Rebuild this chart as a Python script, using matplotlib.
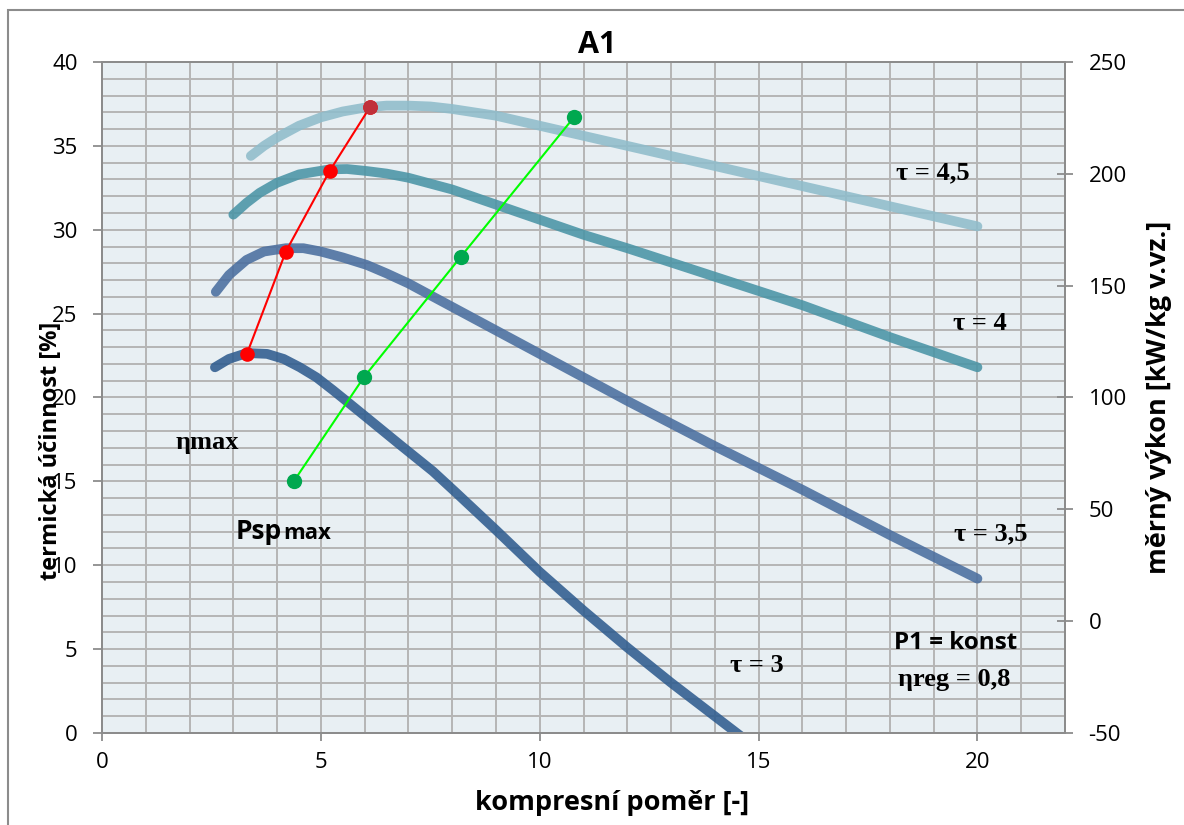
import numpy as np
import matplotlib
matplotlib.use("Agg")
import matplotlib.pyplot as plt
from matplotlib.patches import Rectangle

plt.rcParams['axes.unicode_minus'] = False

# tau curves (x = kompresni pomer, y = termicka ucinnost [%])
x45 = [3.4, 3.7, 4.0, 4.5, 5.0, 5.5, 6.05, 6.5, 7.0, 7.5, 8.0, 9.0, 10.0, 11.0, 12.0,
       14.0, 16.0, 18.0, 20.0]
y45 = [34.4, 35.0, 35.5, 36.2, 36.7, 37.05, 37.3, 37.4, 37.4, 37.35, 37.2, 36.8, 36.2,
       35.6, 35.0, 33.8, 32.6, 31.4, 30.2]

x4 = [3.0, 3.3, 3.6, 4.0, 4.5, 5.2, 5.6, 6.05, 6.5, 7.0, 8.0, 9.0, 10.0, 11.0, 12.0,
      14.0, 16.0, 18.0, 20.0]
y4 = [30.9, 31.6, 32.2, 32.8, 33.3, 33.6, 33.62, 33.5, 33.35, 33.1, 32.4, 31.5, 30.6,
      29.7, 28.9, 27.2, 25.5, 23.6, 21.8]

x35 = [2.6, 2.9, 3.3, 3.7, 4.2, 4.6, 5.0, 5.5, 6.05, 6.5, 7.0, 8.0, 9.0, 10.0, 11.0,
       12.0, 14.0, 16.0, 18.0, 20.0]
y35 = [26.3, 27.3, 28.2, 28.7, 28.9, 28.9, 28.7, 28.35, 27.9, 27.4, 26.8, 25.4, 24.0,
       22.6, 21.2, 19.8, 17.1, 14.5, 11.8, 9.2]

x3 = [2.58, 2.9, 3.31, 3.77, 4.15, 4.52, 4.9, 5.27, 5.65, 6.05, 6.8, 7.56, 8.1, 9.0,
      10.0, 11.0, 12.0, 13.0, 14.0, 14.5, 15.0]
y3 = [21.8, 22.3, 22.65, 22.6, 22.3, 21.8, 21.2, 20.45, 19.65, 18.8, 17.2, 15.6, 14.3,
      12.1, 9.6, 7.3, 5.1, 3.0, 1.0, 0.0, -1.0]

# eta max points (red) and Psp max points (green)
x_eta = [3.31, 4.2, 5.2, 6.12]
y_eta = [22.6, 28.7, 33.5, 37.3]
x_psp = [4.38, 5.98, 8.2, 10.78]
y_psp = [15.0, 21.2, 28.4, 36.7]

W, H = 1184, 825
fig = plt.figure(figsize=(W / 100, H / 100), dpi=100)
ax = fig.add_axes([102 / W, 1 - 733 / H, (1065 - 102) / W, (733 - 62) / H])
ax.set_facecolor('#e8eff3')

sans = 'Open Sans'
serif = 'Liberation Serif'

# grid every 1 unit
ax.set_xlim(0, 22)
ax.set_ylim(0, 40)
ax.set_xticks(range(0, 21, 5))
ax.set_yticks(range(0, 41, 5))
ax.set_xticks(range(0, 23), minor=True)
ax.set_yticks(range(0, 41), minor=True)
ax.grid(which='both', color='#b5b5b5', lw=1.4, zorder=0)
ax.set_axisbelow(True)
ax.tick_params(which='minor', length=0)
ax.tick_params(axis='y', which='major', direction='out', length=6.5, width=1.3,
               color='#8c8c8c', labelsize=16, pad=11)
ax.tick_params(axis='x', which='major', direction='out', length=6, width=1.3,
               color='#8c8c8c', labelsize=16, pad=8)
for lab in ax.get_xticklabels() + ax.get_yticklabels():
    lab.set_fontfamily(sans)
for s in ax.spines.values():
    s.set_color('#8c8c8c')
    s.set_linewidth(1.4)

curves = [(x45, y45, '#8fbccb'), (x4, y4, '#4a94a6'),
          (x35, y35, '#4a6e9f'), (x3, y3, '#2f5c8f')]
for xs, ys, c in curves:
    ax.plot(xs, ys, color=c, lw=7, alpha=0.88, solid_capstyle='round',
            solid_joinstyle='round', zorder=3)

ax.plot(x_eta, y_eta, color='#ff0000', lw=1.5, marker='o', ms=9.5, zorder=4)
ax.plot(x_eta[-1:], y_eta[-1:], 'o', color='#c0303a', ms=9.5, zorder=5)
ax.plot(x_psp, y_psp, color='#00ff00', lw=1.5, zorder=4)
ax.plot(x_psp, y_psp, 'o', color='#00a84f', ms=10, zorder=5)

# right axis
ax2 = ax.twinx()
ax2.set_ylim(-50, 250)
ax2.set_yticks(range(-50, 251, 50))
ax2.tick_params(direction='inout', length=12, width=1.3, color='#8c8c8c',
                labelsize=16, pad=11)
for lab in ax2.get_yticklabels():
    lab.set_fontfamily(sans)
for s in ax2.spines.values():
    s.set_color('#8c8c8c')
    s.set_linewidth(1.4)

fig.text(597 / W, 1 - 45 / H, 'A1', fontsize=22, fontweight='bold', family=sans,
         ha='center', va='center')
ax.set_xlabel('kompresní poměr [-]', fontsize=19.5, fontweight='bold', family=sans)
ax.xaxis.set_label_coords(0.53, -0.085)
ax.set_ylabel('termická účinnost [%]', fontsize=17, fontweight='bold', family=sans)
ax.yaxis.set_label_coords(-0.0405, 0.42)
ax2.set_ylabel('měrný výkon [kW/kg v.vz.]', fontsize=19.5, fontweight='bold', family=sans)
ax2.yaxis.set_label_coords(1.084, 0.5)

tb = dict(fontsize=19, fontweight='bold', family=serif, ha='center', va='center', zorder=6)
ax.text(18.97, 33.4, 'τ = 4,5', **tb)
ax.text(20.05, 24.4, 'τ = 4', **tb)
ax.text(20.3, 11.9, 'τ = 3,5', **tb)
ax.text(14.95, 4.05, 'τ = 3', **tb)
ax.text(19.47, 3.16, 'ηreg = 0,8', **tb)
ax.text(1.67, 17.3, 'ηmax', fontsize=19, fontweight='bold', family=serif,
        ha='left', va='center', zorder=6)
ax.text(19.5, 5.37, 'P1 = konst', fontsize=17.5, fontweight='bold', family=sans,
        ha='center', va='center', zorder=6)
ax.text(3.06, 12.0, 'Psp', fontsize=19, fontweight='bold', family=sans,
        ha='left', va='center', zorder=6)
ax.text(4.13, 11.9, 'max', fontsize=16, fontweight='bold', family=sans,
        ha='left', va='center', zorder=6)

# outer frame like the original chart area
fig.patches.append(Rectangle((8 / W, -0.1), 2, 1.1 - 10 / H, transform=fig.transFigure,
                             fill=False, edgecolor='#8c8c8c', lw=1.5))

fig.savefig('out.png', dpi=100)
